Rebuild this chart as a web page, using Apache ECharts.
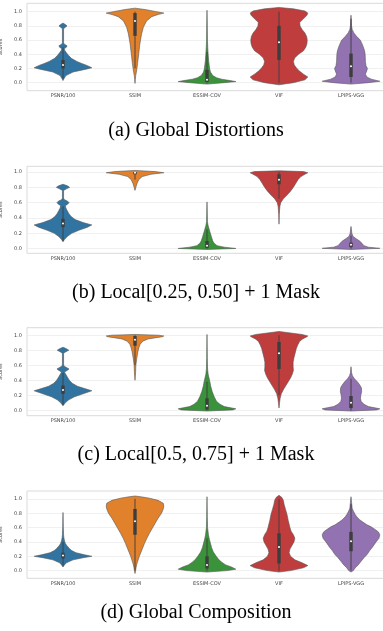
<!DOCTYPE html>
<html>
<head>
<meta charset="utf-8">
<script src="https://cdn.jsdelivr.net/npm/echarts@6/dist/echarts.min.js"></script>
<style>
html,body{margin:0;padding:0;background:#fff;}
#chart{width:383px;height:631px;}
</style>
</head>
<body>
<div id="chart"></div>
<script>
// ---------- DATA ----------
const categories = ['PSNR/100', 'SSIM', 'ESSIM-COV', 'VIF', 'LPIPS-VGG'];
const captions = ['(a) Global Distortions', '(b) Local[0.25, 0.50] + 1 Mask', '(c) Local[0.5, 0.75] + 1 Mask', '(d) Global Composition'];
const yTickValues = [0, 0.2, 0.4, 0.6, 0.8, 1.0];
const yAxisName = 'Scores';

// violin profiles: [score, relative half-width] from bottom to top, per category
const shapesA = [
  [[0.03,0],[0.06,0.04],[0.1,0.1],[0.15,0.35],[0.19,0.8],[0.21,1.0],[0.24,0.85],[0.27,0.65],[0.3,0.48],[0.34,0.3],[0.38,0.2],[0.42,0.12],[0.46,0.05],[0.48,0.05],[0.5,0.12],[0.52,0.14],[0.54,0.05],[0.56,0.02],[0.76,0.02],[0.78,0.08],[0.8,0.14],[0.82,0.08],[0.84,0]],
  [[-0.01,0],[0.05,0.01],[0.1,0.025],[0.18,0.06],[0.27,0.09],[0.41,0.13],[0.55,0.17],[0.69,0.23],[0.78,0.29],[0.87,0.4],[0.93,0.58],[0.96,0.8],[0.98,1.0],[1.0,0.75],[1.03,0.35],[1.05,0]],
  [[-0.02,0],[0.0,0.6],[0.015,1.0],[0.03,0.8],[0.05,0.5],[0.07,0.33],[0.1,0.2],[0.15,0.12],[0.2,0.09],[0.3,0.06],[0.4,0.04],[0.5,0.025],[0.6,0.015],[0.8,0.01],[1.02,0]],
  [[-0.03,0],[0.0,0.5],[0.04,0.9],[0.08,1.0],[0.12,0.85],[0.16,0.72],[0.2,0.62],[0.25,0.53],[0.3,0.5],[0.35,0.55],[0.4,0.68],[0.45,0.85],[0.5,0.93],[0.55,0.97],[0.6,0.98],[0.65,0.96],[0.7,0.9],[0.75,0.8],[0.8,0.73],[0.85,0.72],[0.9,0.85],[0.95,0.97],[0.98,1.0],[1.01,0.9],[1.04,0.5],[1.06,0]],
  [[-0.02,0],[0.0,0.6],[0.02,1.0],[0.05,0.7],[0.08,0.55],[0.12,0.5],[0.17,0.55],[0.2,0.57],[0.24,0.52],[0.3,0.5],[0.4,0.49],[0.45,0.47],[0.5,0.43],[0.55,0.38],[0.6,0.32],[0.65,0.2],[0.7,0.1],[0.75,0.04],[0.8,0.02],[0.95,0]]
];
const shapesB = [
  [[0.09,0],[0.12,0.05],[0.16,0.15],[0.2,0.3],[0.24,0.55],[0.28,0.85],[0.31,1.0],[0.34,0.7],[0.38,0.42],[0.42,0.28],[0.46,0.2],[0.5,0.14],[0.53,0.1],[0.56,0.08],[0.58,0.16],[0.6,0.21],[0.62,0.16],[0.64,0.04],[0.66,0.02],[0.76,0.02],[0.78,0.12],[0.8,0.23],[0.82,0.15],[0.84,0]],
  [[0.76,0],[0.8,0.03],[0.85,0.07],[0.9,0.13],[0.94,0.25],[0.97,0.55],[0.99,1.0],[1.005,0.7],[1.02,0]],
  [[-0.01,0],[0.003,1.0],[0.02,0.6],[0.04,0.35],[0.07,0.25],[0.1,0.2],[0.16,0.15],[0.22,0.1],[0.26,0.07],[0.3,0.04],[0.35,0.015],[0.45,0.01],[0.61,0]],
  [[0.32,0],[0.45,0.01],[0.55,0.03],[0.6,0.06],[0.65,0.15],[0.7,0.28],[0.75,0.4],[0.8,0.5],[0.85,0.58],[0.9,0.66],[0.94,0.76],[0.97,0.9],[0.99,1.0],[1.005,0.85],[1.015,0]],
  [[-0.01,0],[0.005,1.0],[0.02,0.6],[0.04,0.45],[0.07,0.38],[0.1,0.3],[0.13,0.18],[0.16,0.07],[0.2,0.03],[0.29,0]]
];
const shapesC = [
  [[0.06,0],[0.1,0.08],[0.14,0.2],[0.18,0.4],[0.22,0.7],[0.26,1.0],[0.29,0.75],[0.32,0.5],[0.36,0.32],[0.4,0.22],[0.45,0.14],[0.49,0.08],[0.51,0.05],[0.53,0.14],[0.55,0.21],[0.57,0.12],[0.59,0.03],[0.62,0.02],[0.76,0.02],[0.78,0.1],[0.8,0.2],[0.82,0.12],[0.84,0]],
  [[0.4,0],[0.5,0.02],[0.6,0.03],[0.69,0.06],[0.78,0.1],[0.84,0.14],[0.88,0.18],[0.92,0.27],[0.95,0.45],[0.98,0.95],[0.99,1.0],[1.0,0.8],[1.01,0]],
  [[-0.01,0],[0.005,0.9],[0.02,1.0],[0.05,0.6],[0.08,0.45],[0.12,0.33],[0.18,0.25],[0.25,0.18],[0.32,0.13],[0.38,0.1],[0.43,0.07],[0.48,0.04],[0.55,0.02],[0.7,0.01],[1.01,0]],
  [[0.03,0],[0.1,0.02],[0.16,0.04],[0.22,0.08],[0.28,0.16],[0.33,0.24],[0.38,0.32],[0.43,0.4],[0.48,0.46],[0.53,0.5],[0.58,0.49],[0.64,0.49],[0.7,0.52],[0.76,0.56],[0.82,0.6],[0.87,0.65],[0.92,0.72],[0.95,0.82],[0.98,0.97],[0.99,1.0],[1.01,0.8],[1.03,0.4],[1.05,0]],
  [[-0.01,0],[0.005,0.9],[0.02,1.0],[0.05,0.6],[0.08,0.45],[0.12,0.35],[0.16,0.33],[0.2,0.34],[0.25,0.37],[0.3,0.36],[0.34,0.3],[0.38,0.22],[0.42,0.12],[0.46,0.05],[0.5,0.02],[0.58,0]]
];
const shapesD = [
  [[0.05,0],[0.08,0.05],[0.11,0.12],[0.15,0.35],[0.18,0.7],[0.2,1.0],[0.22,0.75],[0.25,0.45],[0.28,0.3],[0.31,0.22],[0.35,0.13],[0.38,0.08],[0.42,0.05],[0.46,0.03],[0.5,0.02],[0.6,0.01],[0.81,0]],
  [[-0.04,0],[0.0,0.02],[0.05,0.04],[0.1,0.07],[0.15,0.11],[0.2,0.15],[0.25,0.2],[0.31,0.26],[0.38,0.33],[0.45,0.41],[0.52,0.5],[0.59,0.6],[0.66,0.7],[0.73,0.8],[0.8,0.92],[0.86,0.98],[0.9,1.0],[0.94,0.98],[0.98,0.8],[1.01,0.5],[1.03,0.2],[1.04,0]],
  [[-0.02,0],[0.0,0.7],[0.02,1.0],[0.05,0.85],[0.08,0.65],[0.12,0.5],[0.16,0.4],[0.2,0.32],[0.26,0.22],[0.32,0.16],[0.38,0.12],[0.44,0.08],[0.5,0.05],[0.6,0.02],[0.75,0.01],[1.03,0]],
  [[-0.02,0],[0.0,0.4],[0.04,0.85],[0.07,1.0],[0.11,0.8],[0.15,0.55],[0.2,0.4],[0.25,0.35],[0.3,0.38],[0.35,0.45],[0.4,0.52],[0.45,0.55],[0.5,0.5],[0.55,0.42],[0.6,0.38],[0.65,0.35],[0.7,0.32],[0.78,0.28],[0.85,0.23],[0.92,0.18],[0.98,0.15],[1.02,0.1],[1.05,0]],
  [[-0.02,0],[0.0,0.08],[0.04,0.15],[0.08,0.25],[0.13,0.35],[0.18,0.45],[0.22,0.55],[0.28,0.65],[0.33,0.75],[0.4,0.87],[0.45,0.97],[0.5,1.0],[0.54,0.95],[0.57,0.85],[0.61,0.7],[0.64,0.55],[0.68,0.4],[0.71,0.3],[0.75,0.2],[0.78,0.15],[0.83,0.08],[0.87,0.04],[0.95,0.02],[1.03,0]]
];

// inner box stats: [whiskerLow, q1, median, q3, whiskerHigh]
const boxA = [[0.06,0.2,0.25,0.32,0.5],[0.2,0.66,0.87,0.98,1.0],[0.0,0.01,0.04,0.18,0.43],[0.0,0.32,0.57,0.8,1.0],[0.0,0.08,0.23,0.41,0.9]];
const boxB = [[0.1,0.28,0.33,0.39,0.55],[0.9,0.97,0.99,1.0,1.0],[0.0,0.01,0.04,0.1,0.25],[0.65,0.84,0.9,0.97,1.0],[0.0,0.02,0.05,0.08,0.17]];
const boxC = [[0.07,0.22,0.27,0.33,0.5],[0.6,0.86,0.94,0.99,1.0],[0.0,0.01,0.06,0.16,0.38],[0.2,0.55,0.76,0.91,1.0],[0.0,0.03,0.1,0.19,0.42]];
const boxD = [[0.07,0.17,0.21,0.25,0.4],[0.0,0.5,0.69,0.86,1.0],[0.0,0.03,0.08,0.2,0.45],[0.0,0.1,0.33,0.52,1.0],[0.0,0.27,0.41,0.54,0.93]];

// ---------- LAYOUT / STYLE ----------
const colors = ['#3274a1', '#e1812c', '#3a923a', '#c03d3e', '#9372b2'];
const panels = [
  {shapes: shapesA, box: boxA, top: 3.3,   height: 87.4, min: -0.113, max: 1.118, capY: 131},
  {shapes: shapesB, box: boxB, top: 166.3, height: 87.0, min: -0.06,  max: 1.074, capY: 293},
  {shapes: shapesC, box: boxC, top: 327.7, height: 88.0, min: -0.072, max: 1.10,  capY: 455},
  {shapes: shapesD, box: boxD, top: 491.0, height: 87.3, min: -0.107, max: 1.11,  capY: 613}
];

const chart = echarts.init(document.getElementById('chart'), null, {renderer: 'canvas'});

const grids = [], xAxes = [], yAxes = [], series = [], graphics = [];
panels.forEach((p, pi) => {
  grids.push({left: 27, width: 360, top: p.top, height: p.height, show: true,
    containLabel: false, outerBoundsMode: 'none',
    borderColor: '#dadada', borderWidth: 1, backgroundColor: '#fff'});
  xAxes.push({type: 'category', gridIndex: pi, data: categories, boundaryGap: true,
    axisLine: {show: false}, axisTick: {show: false}, splitLine: {show: false},
    axisLabel: {fontSize: 5, color: '#444', margin: 3, fontFamily: 'DejaVu Sans'}});
  yAxes.push({type: 'value', gridIndex: pi, min: p.min, max: p.max,
    name: yAxisName, nameLocation: 'middle', nameGap: 11, nameRotate: 90,
    nameTextStyle: {fontSize: 5, color: '#444', fontFamily: 'DejaVu Sans'},
    axisLine: {show: false},
    axisTick: {show: false, customValues: yTickValues},
    axisLabel: {customValues: yTickValues, fontSize: 5, color: '#444', margin: 5,
      fontFamily: 'DejaVu Sans', formatter: v => v.toFixed(1)},
    splitLine: {show: true, lineStyle: {color: '#ececec', width: 0.8}}});
  series.push({
    type: 'custom', xAxisIndex: pi, yAxisIndex: pi,
    data: categories.map((c, i) => [i]),
    renderItem: function (params, api) {
      const i = api.value(0);
      const prof = p.shapes[i];
      const st = p.box[i];
      const cx = api.coord([i, 0])[0];
      const hw = api.size([1, 0])[0] * 0.4;
      const right = prof.map(d => [cx + d[1] * hw, api.coord([i, d[0]])[1]]);
      const left = prof.slice().reverse().map(d => [cx - d[1] * hw, api.coord([i, d[0]])[1]]);
      const pts = right.concat(left);
      const yLo = api.coord([i, st[0]])[1], yQ1 = api.coord([i, st[1]])[1];
      const yMed = api.coord([i, st[2]])[1], yQ3 = api.coord([i, st[3]])[1];
      const yHi = api.coord([i, st[4]])[1];
      return {
        type: 'group',
        children: [
          {type: 'polygon', shape: {points: pts},
            style: {fill: colors[i], stroke: '#555', lineWidth: 0.6, lineJoin: 'round'}},
          {type: 'line', shape: {x1: cx, y1: yLo, x2: cx, y2: yHi},
            style: {stroke: '#3d3d3d', lineWidth: 0.9}},
          {type: 'rect', shape: {x: cx - 1.7, y: yQ3, width: 3.4, height: yQ1 - yQ3},
            style: {fill: '#3d3d3d'}},
          {type: 'circle', shape: {cx: cx, cy: yMed, r: 1.0},
            style: {fill: '#ffffff'}}
        ]
      };
    }
  });
  graphics.push({type: 'text', x: 196, y: p.capY,
    style: {text: captions[pi], fill: '#000', font: '20px "Liberation Serif"',
      textAlign: 'center', textVerticalAlign: 'middle'}});
});

chart.setOption({
  animation: false,
  backgroundColor: '#ffffff',
  grid: grids, xAxis: xAxes, yAxis: yAxes, series: series,
  graphic: graphics
});
</script>
</body>
</html>
